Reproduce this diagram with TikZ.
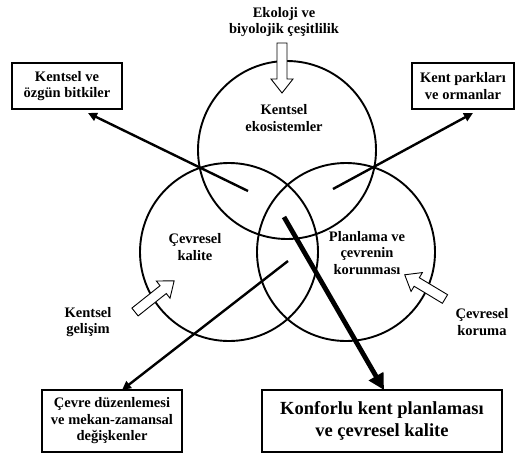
\documentclass[tikz,border=0pt]{standalone}
\usepackage{fontspec}
\setmainfont{Liberation Serif}
\usetikzlibrary{arrows.meta}

% block arrow: tail point, direction angle, length
\newcommand\blockarrow[3]{%
  \begin{scope}[shift={#1}, rotate=#2]
    \draw[hollow] (0,-5) -- ({#3-14},-5) -- ({#3-14},-11) -- (#3,0)
      -- ({#3-14},11) -- ({#3-14},5) -- (0,5) -- cycle;
  \end{scope}}

\begin{document}
\begin{tikzpicture}[x=1pt,y=-1pt,
  every node/.style={font=\bfseries\fontsize{14.5}{16.5}\selectfont, align=center, inner sep=0pt},
  ring/.style={draw, circle, line width=1.9pt, minimum size=178pt},
  box/.style={draw, line width=1.1pt},
  bigtext/.style={font=\bfseries\fontsize{18.5}{22}\selectfont},
  link/.style={line width=2.4pt, -{Triangle[length=9pt,width=8.5pt]}},
  mainlink/.style={line width=4.8pt, -{Triangle[length=16pt,width=16pt]}},
  hollow/.style={draw, fill=white, line width=0.9pt, line join=miter}]
\useasboundingbox (0,0) rectangle (516,453);

% three overlapping circles
\node[ring] (eco) at (287,150) {};
\node[ring] (qual) at (229,252) {};
\node[ring] (plan) at (346,252) {};

% circle labels
\node (ecot) at (284,118) {Kentsel\\ekosistemler};
\node (qualt) at (195,247) {Çevresel\\kalite};
\node (plant) at (367,253) {Planlama ve\\çevrenin\\korunması};

% outside labels
\node (bio) at (284,22) {Ekoloji ve\\biyolojik çeşitlilik};
\node (dev) at (88,322) {Kentsel\\gelişim};
\node (prot) at (482,322) {Çevresel\\koruma};

% boxes
\node[box, minimum width=110pt, minimum height=46pt] (b1) at (67,86) {Kentsel ve\\özgün bitkiler};
\node[box, minimum width=102pt, minimum height=46pt] (b2) at (463,86) {Kent parkları\\ve ormanlar};
\node[box, minimum width=140pt, minimum height=62pt] (b3) at (112,421) {Çevre düzenlemesi\\ve mekan-zamansal\\değişkenler};
\node[box, bigtext, minimum width=240pt, minimum height=62pt] (b4) at (382,421) {Konforlu kent planlaması\\ve çevresel kalite};

% connector end points
\coordinate (s1) at (248,191);
\coordinate (e1) at (88,113);
\coordinate (s2) at (333,189);
\coordinate (e2) at (473,113);
\coordinate (s3) at (288,261);
\coordinate (e3) at (122,390);
\coordinate (s4) at (284,217);
\coordinate (e4) at (384,390);

\draw[link] (s1) -- (e1);
\draw[link] (s2) -- (e2);
\draw[link] (s3) -- (e3);
\draw[mainlink] (s4) -- (e4);

% hollow input arrows
\blockarrow{(282,43)}{-90}{50}
\blockarrow{(135,312)}{38.5}{50}
\blockarrow{(445,299)}{149}{47}

\end{tikzpicture}
\end{document}
